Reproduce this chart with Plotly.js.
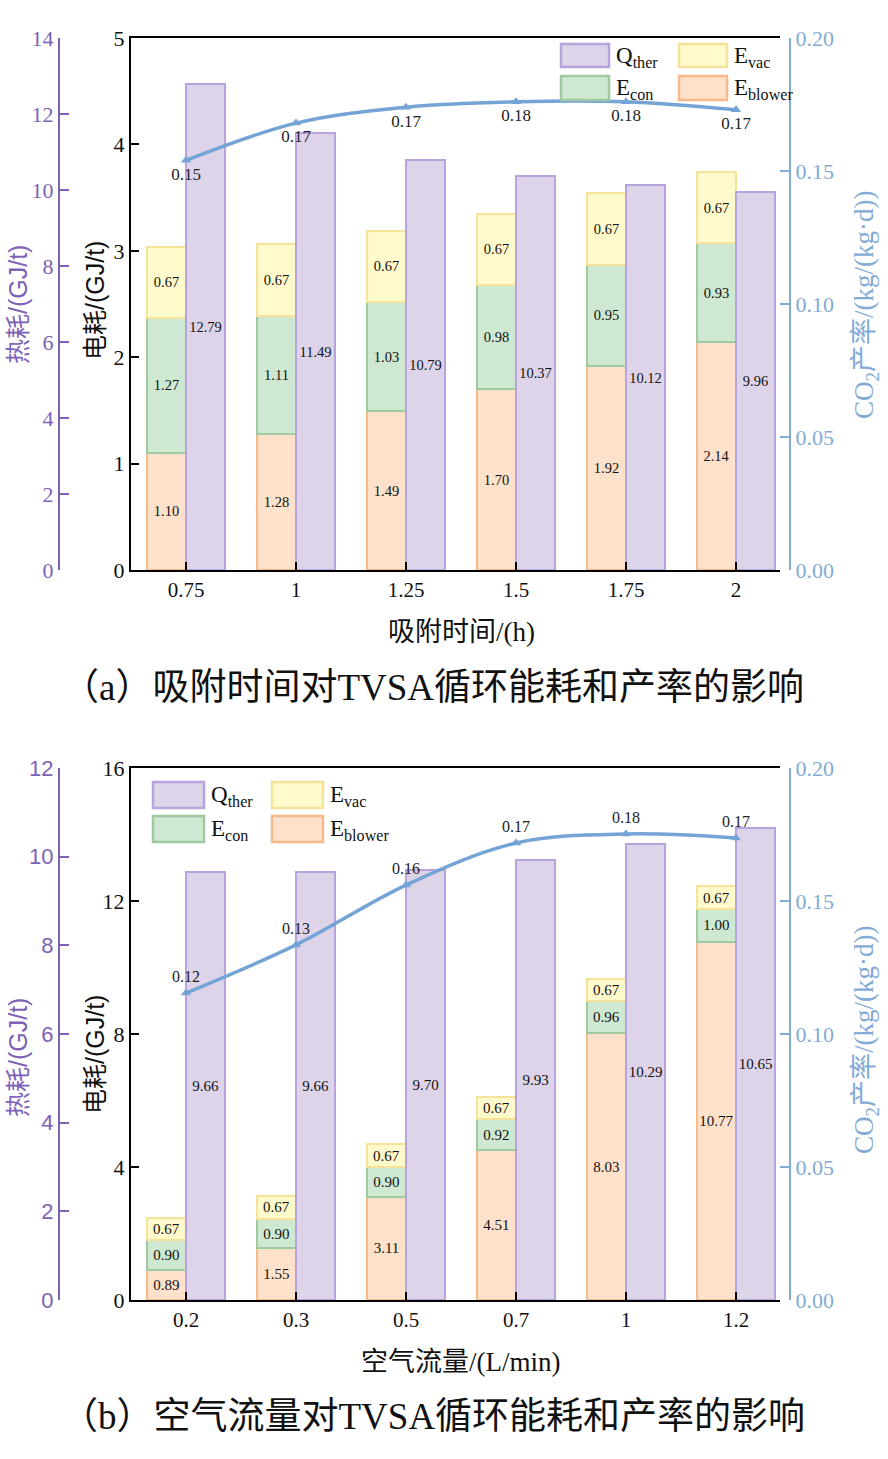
<!DOCTYPE html>
<html>
<head>
<meta charset="utf-8">
<script src="https://cdn.plot.ly/plotly-3.0.1.min.js"></script>
<style>html,body{margin:0;padding:0;background:#fff;}#chart{width:888px;height:1459px;}</style>
</head>
<body>
<div id="chart"></div>
<script>
// ---------- data (panel a: adsorption time) ----------
const catA = ['0.75', '1', '1.25', '1.5', '1.75', '2'];
const blowerA = [1.10, 1.28, 1.49, 1.70, 1.92, 2.14];
const conA = [1.27, 1.11, 1.03, 0.98, 0.95, 0.93];
const vacA = [0.67, 0.67, 0.67, 0.67, 0.67, 0.67];
const qA = [12.79, 11.49, 10.79, 10.37, 10.12, 9.96];
const co2A = [0.154, 0.168, 0.174, 0.176, 0.176, 0.173];

// ---------- data (panel b: air flow) ----------
const catB = ['0.2', '0.3', '0.5', '0.7', '1', '1.2'];
const blowerB = [0.89, 1.55, 3.11, 4.51, 8.03, 10.77];
const conB = [0.90, 0.90, 0.90, 0.92, 0.96, 1.00];
const vacB = [0.67, 0.67, 0.67, 0.67, 0.67, 0.67];
const qB = [9.66, 9.66, 9.70, 9.93, 10.29, 10.65];
const co2B = [0.1154, 0.1335, 0.156, 0.1718, 0.1752, 0.1737];

// ---------- styles ----------
const W = 888, H = 1459;
const px = x => x / W;
const py = y => 1 - y / H;
const SERIF = 'Liberation Serif, Times New Roman, Noto Sans CJK SC, serif';
const SANS = 'Liberation Sans, Arial, Noto Sans CJK SC, sans-serif';
const PURPLE = '#7d62b6';
const BLUE = '#82abd6';
const C = {
  q: {fill: '#ddd4ea', line: '#b8a3dc'},
  vac: {fill: '#fefacb', line: '#f6e39b'},
  con: {fill: '#cfe8d1', line: '#9fca9f'},
  blower: {fill: '#fde1ca', line: '#f5b98a'}
};
const BW = 0.355;

function barTrace(name, cats, vals, col, xa, ya, offset, fs) {
  return {
    type: 'bar', name: name, x: cats, y: vals, xaxis: xa, yaxis: ya,
    offset: offset, width: BW,
    marker: {color: col.fill, line: {color: col.line, width: 2}},
    texttemplate: '%{y:.2f}', textposition: 'inside', insidetextanchor: 'middle',
    textangle: 0, constraintext: 'none',
    textfont: {family: SERIF, size: fs, color: '#111'},
    showlegend: false, hoverinfo: 'x+y'
  };
}
function lineTrace(cats, vals, xa, ya, pos, fs) {
  return {
    type: 'scatter', mode: 'lines+markers+text', x: cats, y: vals, xaxis: xa, yaxis: ya,
    line: {color: '#74a4d6', width: 3.5, shape: 'spline'},
    marker: {symbol: 'triangle-up', size: 9, color: '#74a4d6'},
    texttemplate: '%{y:.2f}', textposition: pos, cliponaxis: false,
    textfont: {family: SERIF, size: fs, color: '#222'},
    showlegend: false
  };
}

const data = [
  barTrace('E_blower', catA, blowerA, C.blower, 'x', 'y', -BW, 14.5),
  barTrace('E_con', catA, conA, C.con, 'x', 'y', -BW, 14.5),
  barTrace('E_vac', catA, vacA, C.vac, 'x', 'y', -BW, 14.5),
  barTrace('Q_ther', catA, qA, C.q, 'x', 'y2', 0, 14.5),
  lineTrace(catA, co2A, 'x', 'y3', 'bottom center', 17),
  barTrace('E_blower', catB, blowerB, C.blower, 'x2', 'y4', -BW, 15),
  barTrace('E_con', catB, conB, C.con, 'x2', 'y4', -BW, 15),
  barTrace('E_vac', catB, vacB, C.vac, 'x2', 'y4', -BW, 15),
  barTrace('Q_ther', catB, qB, C.q, 'x2', 'y5', 0, 15),
  lineTrace(catB, co2B, 'x2', 'y6', 'top center', 16)
];

const domX = [px(131), px(780)];
const domA = [py(570), py(38)];
const domB = [py(1300), py(768)];

function xAxis(anchor, dom) {
  return {
    domain: domX, anchor: anchor, type: 'category', range: [-0.5, 5.4],
    showline: true, linecolor: '#000', linewidth: 2, mirror: true,
    ticks: 'inside', ticklen: 8, tickwidth: 2, tickcolor: '#000',
    showgrid: false, zeroline: false,
    tickfont: {family: SERIF, size: 21, color: '#111'}
  };
}
function eAxis(anchor, dom, rmax, dt) {
  return {
    domain: dom, anchor: anchor, range: [0, rmax], dtick: dt,
    showline: true, linecolor: '#000', linewidth: 2,
    ticks: 'inside', ticklen: 8, tickwidth: 2, tickcolor: '#000',
    showgrid: false, zeroline: false,
    tickfont: {family: SERIF, size: 22, color: '#111'}
  };
}
function hAxis(over, rmax, fam) {
  return {
    overlaying: over, anchor: 'free', position: px(59), side: 'left',
    range: [0, rmax], dtick: 2,
    showline: true, linecolor: PURPLE, linewidth: 2,
    ticks: 'inside', ticklen: 9, tickwidth: 2, tickcolor: PURPLE,
    showgrid: false, zeroline: false,
    tickfont: {family: fam, size: 22, color: PURPLE}
  };
}
function cAxis(over) {
  return {
    overlaying: over, anchor: 'free', position: px(790), side: 'right',
    range: [0, 0.2], dtick: 0.05, tickformat: '.2f',
    showline: true, linecolor: BLUE, linewidth: 2,
    ticks: 'inside', ticklen: 9, tickwidth: 2, tickcolor: BLUE,
    showgrid: false, zeroline: false,
    tickfont: {family: SERIF, size: 22, color: BLUE}
  };
}

const ann = [];
function addText(text, x, y, size, color, fam, angle, xanchor) {
  ann.push({
    text: text, xref: 'paper', yref: 'paper', x: px(x), y: py(y),
    xanchor: xanchor || 'center', yanchor: 'middle', showarrow: false,
    textangle: angle || 0, font: {family: fam, size: size, color: color}
  });
}
// axis titles panel a
addText('热耗/(GJ/t)', 18, 305, 25, PURPLE, SANS, -90);
addText('电耗/(GJ/t)', 95, 301, 25, '#111', SANS, -90);
addText('CO<sub>2</sub>产率/(kg/(kg·d))', 866, 305, 27, BLUE, SERIF, -90);
addText('吸附时间/(h)', 461, 632, 27, '#111', SERIF);
addText('（a）吸附时间对TVSA循环能耗和产率的影响', 433, 688, 37, '#111', SERIF);
// axis titles panel b
addText('热耗/(GJ/t)', 18, 1058, 25, PURPLE, SANS, -90);
addText('电耗/(GJ/t)', 95, 1055, 25, '#111', SANS, -90);
addText('CO<sub>2</sub>产率/(kg/(kg·d))', 866, 1040, 27, BLUE, SERIF, -90);
addText('空气流量/(L/min)', 460, 1362, 27, '#111', SERIF);
addText('（b）空气流量对TVSA循环能耗和产率的影响', 433, 1416, 37, '#111', SERIF);

// custom legends
const shapes = [];
function legendItem(col, x0, y0, x1, y1, label) {
  shapes.push({type: 'rect', xref: 'paper', yref: 'paper',
    x0: px(x0), x1: px(x1), y0: py(y1), y1: py(y0),
    fillcolor: col.fill, line: {color: col.line, width: 2.5}});
  addText(label, x1 + 5, (y0 + y1) / 2 + 1, 23, '#111', SERIF, 0, 'left');
}
legendItem(C.q, 561, 44, 609, 67, 'Q<sub>ther</sub>');
legendItem(C.vac, 679, 44, 727, 67, 'E<sub>vac</sub>');
legendItem(C.con, 561, 76, 609, 100, 'E<sub>con</sub>');
legendItem(C.blower, 679, 76, 727, 100, 'E<sub>blower</sub>');

legendItem(C.q, 153, 782, 204, 808, 'Q<sub>ther</sub>');
legendItem(C.vac, 272, 782, 323, 808, 'E<sub>vac</sub>');
legendItem(C.con, 153, 816, 204, 842, 'E<sub>con</sub>');
legendItem(C.blower, 272, 816, 323, 842, 'E<sub>blower</sub>');

const layout = {
  width: W, height: H,
  margin: {l: 0, r: 0, t: 0, b: 0},
  paper_bgcolor: '#fff', plot_bgcolor: 'rgba(0,0,0,0)',
  barmode: 'stack',
  showlegend: false,
  font: {family: SERIF, color: '#111'},
  xaxis: xAxis('y', domA),
  yaxis: eAxis('x', domA, 5, 1),
  yaxis2: hAxis('y', 14, SERIF),
  yaxis3: cAxis('y'),
  xaxis2: xAxis('y4', domB),
  yaxis4: eAxis('x2', domB, 16, 4),
  yaxis5: hAxis('y4', 12, SANS),
  yaxis6: cAxis('y4'),
  annotations: ann,
  shapes: shapes
};

Plotly.newPlot('chart', data, layout, {staticPlot: true, displayModeBar: false});
</script>
</body>
</html>
